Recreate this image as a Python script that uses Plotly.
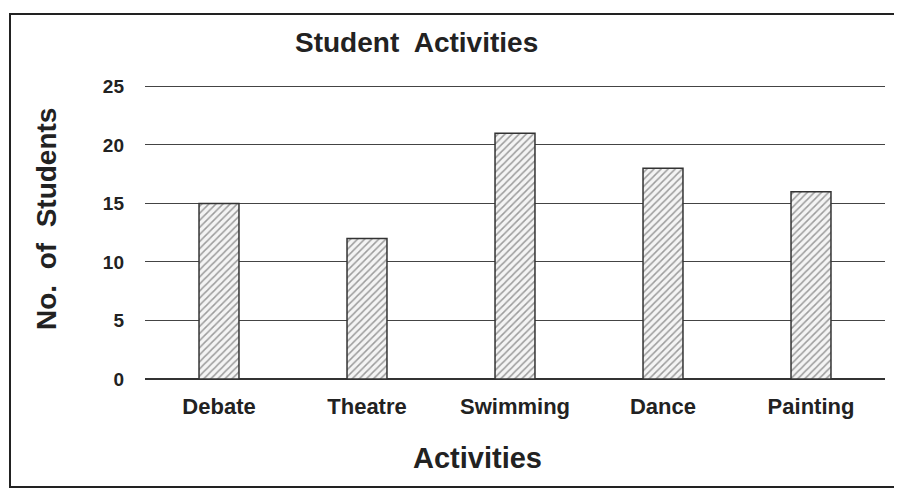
import plotly.graph_objects as go

activities = ["Debate", "Theatre", "Swimming", "Dance", "Painting"]
students = [15, 12, 21, 18, 16]
y_ticks = [0, 5, 10, 15, 20, 25]

FONT = "Liberation Sans, Arial, sans-serif"
TXT = "#222222"

# The page body adds an 8px offset; work in screen coordinates and compensate.
OFF = 8
W, H = 902 - OFF, 496 - OFF

fig = go.Figure(go.Bar(
    x=activities,
    y=students,
    marker=dict(
        color="white",
        line=dict(color="#333333", width=1.5),
        pattern=dict(shape="/", fgcolor="#444444", bgcolor="#f4f4f4", size=5, solidity=0.3),
    ),
    width=0.27,
))

# plot area in screen coords
X0, X1, Y0, Y1 = 145, 885, 84, 379
L, R, T, B = X0 - OFF, 902 - X1, Y0 - OFF, 496 - Y1
PW, PH = X1 - X0, Y1 - Y0


def px(x):
    return (x - X0) / PW


def py(y):
    return (Y1 - y) / PH


fig.update_layout(
    width=W, height=H,
    paper_bgcolor="white", plot_bgcolor="white",
    margin=dict(l=L, r=R, t=T, b=B, autoexpand=False),
    showlegend=False,
    xaxis=dict(
        tickfont=dict(family=FONT, size=22, color=TXT),
        tickvals=activities, ticktext=["<b>%s</b>" % a for a in activities],
        showline=False, showgrid=False, ticks="", ticklabelstandoff=12,
        automargin=False,
    ),
    yaxis=dict(
        range=[0, 25.2],
        tickvals=y_ticks, ticktext=["<b>%d</b>" % v for v in y_ticks],
        tickfont=dict(family=FONT, size=19, color=TXT),
        showgrid=True, gridcolor="#444444", gridwidth=1.3,
        zeroline=True, zerolinecolor="#333333", zerolinewidth=1.5,
        showline=False, ticks="", ticklabelstandoff=20,
        automargin=False,
    ),
    annotations=[
        dict(text="<b>Student  Activities</b>", xref="paper", yref="paper",
             x=px(416), y=py(42), xanchor="center", yanchor="middle",
             showarrow=False, font=dict(family=FONT, size=28, color=TXT)),
        dict(text="<b>Activities</b>", xref="paper", yref="paper",
             x=px(477), y=py(458), xanchor="center", yanchor="middle",
             showarrow=False, font=dict(family=FONT, size=29, color=TXT)),
        dict(text="<b>No.  of  Students</b>", xref="paper", yref="paper",
             x=px(46), y=py(219), xanchor="center", yanchor="middle",
             textangle=-90, showarrow=False, font=dict(family=FONT, size=28, color=TXT)),
    ],
    shapes=[dict(type="rect", xref="paper", yref="paper",
                 x0=px(10), x1=px(895), y0=py(487), y1=py(14),
                 line=dict(color="#222222", width=2), fillcolor="rgba(0,0,0,0)", layer="below")],
)

fig.write_html("out.html")
